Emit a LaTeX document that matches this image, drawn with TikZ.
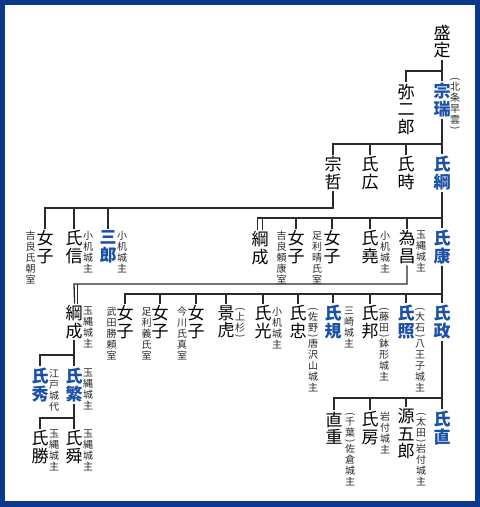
\documentclass[tikz,border=0pt]{standalone}
\usepackage{fontspec}
\setmainfont{Noto Sans CJK JP}
\usepackage{graphicx}
\definecolor{framecol}{HTML}{0B3A8C}
\definecolor{hblue}{HTML}{1A50A8}
\definecolor{ink}{HTML}{2A2A2A}
\newcommand{\lpar}{\rotatebox[origin=c]{-90}{(}}
\newcommand{\rpar}{\rotatebox[origin=c]{-90}{)}}
\begin{document}
\begin{tikzpicture}[x=1pt,y=-1pt,
  nm/.style={font=\fontsize{17}{17.5}\selectfont, align=center, inner sep=1.5pt, text=black},
  bnm/.style={font=\fontsize{17}{17.5}\selectfont\bfseries, align=center, inner sep=1.5pt, text=hblue},
  ann/.style={font=\fontsize{10}{11}\selectfont, align=center, inner sep=0pt, text=ink, anchor=north},
  ln/.style={draw=ink, line width=1.3pt}]
\useasboundingbox (0,0) rectangle (480,507);
\fill[framecol] (0,0) rectangle (480,507);
\fill[white] (5,5) rectangle (475,501);

% bus coordinates
\coordinate (b1) at (0,71);
\coordinate (b2) at (0,144);
\coordinate (b3) at (0,208);
\coordinate (b4) at (0,218);
\coordinate (b5) at (0,284);
\coordinate (b6) at (0,294);
\coordinate (b7) at (0,355);
\coordinate (b8) at (0,418);
\coordinate (b9) at (0,398);

% generation 1-2
\node[nm]  (n1) at (442,41.5) {盛\\定};
\node[nm]  (n2) at (406,109.5) {弥\\二\\郎};
\node[bnm] (n3) at (442,100) {宗\\瑞};
\node[ann] (a3) at (455,77) {\lpar\\[-3pt]北\\条\\早\\雲\\[-3pt]\rpar};

% generation 3
\node[nm]  (n4) at (333,173) {宗\\哲};
\node[nm]  (n5) at (370,173) {氏\\広};
\node[nm]  (n6) at (406,173) {氏\\時};
\node[bnm] (n7) at (442,173) {氏\\綱};

% generation 4
\node[nm]  (n8)  at (45,247)  {女\\子};
\node[ann] (a8)  at (30.5,231)  {吉\\良\\氏\\朝\\室};
\node[nm]  (n9)  at (74,247)  {氏\\信};
\node[ann] (a9)  at (88,231)  {小\\机\\城\\主};
\node[bnm] (n10) at (108,247) {三\\郎};
\node[ann] (a10) at (122,231) {小\\机\\城\\主};
\node[nm]  (n11) at (260,248) {綱\\成};
\node[nm]  (n12) at (296,247) {女\\子};
\node[ann] (a12) at (281.5,231) {吉\\良\\頼\\康\\室};
\node[nm]  (n13) at (332,247) {女\\子};
\node[ann] (a13) at (317,231) {足\\利\\晴\\氏\\室};
\node[nm]  (n14) at (370,247) {氏\\堯};
\node[ann] (a14) at (385,231) {小\\机\\城\\主};
\node[nm]  (n15) at (407,247) {為\\昌};
\node[ann] (a15) at (421,231) {玉\\縄\\城\\主};
\node[bnm] (n16) at (442,247) {氏\\康};

% generation 5
\node[nm]  (n17) at (74,322)  {綱\\成};
\node[ann] (a17) at (88,307) {玉\\縄\\城\\主};
\node[nm]  (n18) at (125,322) {女\\子};
\node[ann] (a18) at (111.5,307) {武\\田\\勝\\頼\\室};
\node[nm]  (n19) at (160,322) {女\\子};
\node[ann] (a19) at (146.5,307) {足\\利\\義\\氏\\室};
\node[nm]  (n20) at (196,322) {女\\子};
\node[ann] (a20) at (182,307) {今\\川\\氏\\真\\室};
\node[nm]  (n21) at (226,322) {景\\虎};
\node[ann] (a21) at (240,307) {\lpar\\[-3pt]上\\杉\\[-3pt]\rpar};
\node[nm]  (n22) at (263,322) {氏\\光};
\node[ann] (a22) at (277,307) {小\\机\\城\\主};
\node[nm]  (n23) at (298,322) {氏\\忠};
\node[ann] (a23) at (313,307) {\lpar\\[-3pt]佐\\野\\[-3pt]\rpar\\[-3pt]唐\\沢\\山\\城\\主};
\node[bnm] (n24) at (333,322) {氏\\規};
\node[ann] (a24) at (349,307) {三\\崎\\城\\主};
\node[nm]  (n25) at (370,322) {氏\\邦};
\node[ann] (a25) at (384,307) {\lpar\\[-3pt]藤\\田\\[-3pt]\rpar\\[-3pt]鉢\\形\\城\\主};
\node[bnm] (n26) at (406,322) {氏\\照};
\node[ann] (a26) at (420,307) {\lpar\\[-3pt]大\\石\\[-3pt]\rpar\\[-3pt]八\\王\\子\\城\\主};
\node[bnm] (n27) at (442,322) {氏\\政};

% generation 6-7 (Tamanawa line)
\node[bnm] (n28) at (40,385)  {氏\\秀};
\node[ann] (a28) at (54,369)  {江\\戸\\城\\代};
\node[bnm] (n29) at (74,385)  {氏\\繁};
\node[ann] (a29) at (88,369) {玉\\縄\\城\\主};
\node[nm]  (n30) at (40,447)  {氏\\勝};
\node[ann] (a30) at (54,430)  {玉\\縄\\城\\主};
\node[nm]  (n31) at (74,447)  {氏\\舜};
\node[ann] (a31) at (88,430) {玉\\縄\\城\\主};

% generation 6 (main line)
\node[nm]  (n32) at (334,428) {直\\重};
\node[ann] (a32) at (350,412) {\lpar\\[-3pt]千\\葉\\[-3pt]\rpar\\[-3pt]佐\\倉\\城\\主};
\node[nm]  (n33) at (370,428) {氏\\房};
\node[ann] (a33) at (385,412) {岩\\付\\城\\主};
\node[nm]  (n34) at (406,434) {源\\五\\郎};
\node[ann] (a34) at (421,412) {\lpar\\[-3pt]太\\田\\[-3pt]\rpar\\[-3pt]岩\\付\\城\\主};
\node[bnm] (n35) at (442,428) {氏\\直};

% connectors
\draw[ln] (n1.south) -- (n3.north);
\draw[ln] (n2.north) |- (b1 -| n3.north);

\draw[ln] (n3.south) -- (n7.north);
\draw[ln] (n4.north) |- (b2 -| n7.north);
\draw[ln] (n5.north) -- (n5.north |- b2);
\draw[ln] (n6.north) -- (n6.north |- b2);

\draw[ln] (n4.south) |- (b3 -| n8.north) -- (n8.north);
\draw[ln] (n9.north) -- (n9.north |- b3);
\draw[ln] (n10.north) -- (n10.north |- b3);

\draw[ln] (n7.south) -- (n16.north);
\draw[ln] ([xshift=-2.2pt]n11.north) |- (b4 -| n16.north);
\draw[ln] ([xshift=2.2pt]n11.north) -- ([xshift=2.2pt]n11.north |- b4);
\draw[ln] (n12.north) -- (n12.north |- b4);
\draw[ln] (n13.north) -- (n13.north |- b4);
\draw[ln] (n14.north) -- (n14.north |- b4);
\draw[ln] (n15.north) -- (n15.north |- b4);

\draw[ln] (n15.south) |- (b5 -| n17.north) -- ([xshift=0.6pt]n17.north);
\draw[ln] ([xshift=3.8pt]n17.north) -- ([xshift=3.8pt]n17.north |- b5);

\draw[ln] (n16.south) -- (n27.north);
\draw[ln] (n18.north) |- (b6 -| n27.north);
\foreach \c in {n19,n20,n21,n22,n23,n24,n25,n26}
  \draw[ln] (\c.north) -- (\c.north |- b6);

\draw[ln] (n17.south) -- (n29.north);
\draw[ln] (n28.north) |- (b7 -| n29.north);

\draw[ln] (n29.south) -- (n31.north);
\draw[ln] (n30.north) |- (b8 -| n31.north);

\draw[ln] (n27.south) -- (n35.north);
\draw[ln] (n32.north) |- (b9 -| n35.north);
\draw[ln] (n33.north) -- (n33.north |- b9);
\draw[ln] (n34.north) -- (n34.north |- b9);
\end{tikzpicture}
\end{document}
